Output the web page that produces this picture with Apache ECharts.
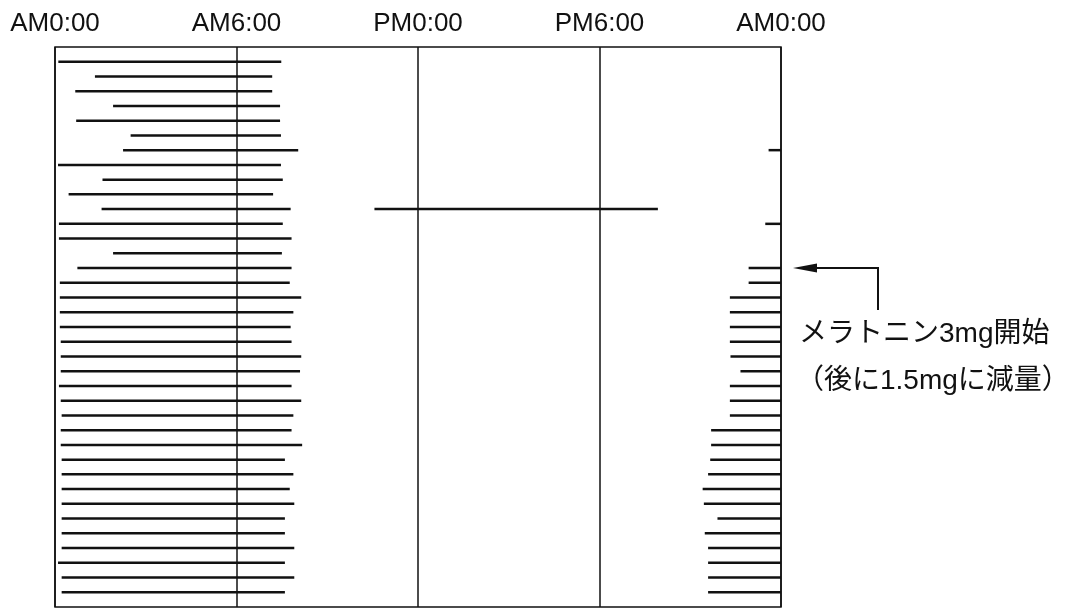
<!DOCTYPE html>
<html>
<head>
<meta charset="utf-8">
<script src="https://cdn.jsdelivr.net/npm/echarts@6/dist/echarts.min.js"></script>
<style>
html,body{margin:0;padding:0;background:#fff;}
#c{width:1078px;height:609px;}
</style>
</head>
<body>
<div id="c"></div>
<script>
// Tick labels of the time axis (hours 0, 6, 12, 18, 24)
const hourLabels = ['AM0:00', 'AM6:00', 'PM0:00', 'PM6:00', 'AM0:00'];

// Day rows (top to bottom)
const days = [1,2,3,4,5,6,7,8,9,10,11,12,13,14,15,16,17,18,19,20,21,22,23,24,25,26,27,28,29,30,31,32,33,34,35,36,37];

// Night sleep after midnight: start hour and wake hour
const morningStart = [0.11,1.32,0.67,1.92,0.70,2.50,2.25,0.10,1.57,0.45,1.54,0.13,0.13,1.92,0.74,0.16,0.16,0.16,0.16,0.19,0.19,0.19,0.13,0.19,0.22,0.19,0.19,0.22,0.22,0.22,0.22,0.22,0.22,0.22,0.10,0.22,0.22];
const morningEnd   = [7.48,7.18,7.18,7.44,7.44,7.47,8.04,7.47,7.53,7.21,7.79,7.53,7.82,7.50,7.82,7.76,8.14,7.88,7.79,7.82,8.14,8.10,7.82,8.14,7.88,7.82,8.17,7.60,7.88,7.76,7.91,7.60,7.60,7.91,7.60,7.91,7.60];

// Bedtime before midnight (sleep runs to 24:00), null = none
const eveningStart = [null,null,null,null,null,null,23.59,null,null,null,null,23.48,null,null,22.93,22.93,22.31,22.31,22.31,22.31,22.33,22.66,22.31,22.31,22.31,21.69,21.69,21.66,21.59,21.41,21.45,21.90,21.48,21.59,21.59,21.59,21.59];

// Daytime sleep episode
const daytimeDay = [11];
const daytimeStart = [10.56];
const daytimeEnd = [19.93];

// Annotation
const noteDay = 15;
const noteLines = ['メラトニン3mg開始', '（後に1.5mgに減量）'];

const segs = [];
days.forEach((d, i) => {
  segs.push([morningStart[i], morningEnd[i], d]);
  if (eveningStart[i] != null) segs.push([eveningStart[i], 24, d]);
});
daytimeDay.forEach((d, i) => segs.push([daytimeStart[i], daytimeEnd[i], d]));

const chart = echarts.init(document.getElementById('c'), null, {renderer: 'canvas'});
const option = {
  animation: false,
  backgroundColor: '#fff',
  grid: {left: 55, right: 297, top: 47, bottom: 2, show: true, borderColor: '#111', borderWidth: 1.5, backgroundColor: 'transparent'},
  xAxis: {
    type: 'value', position: 'top', min: 0, max: 24, interval: 6,
    axisLine: {show: false}, axisTick: {show: false},
    splitLine: {show: true, lineStyle: {color: '#111', width: 1.5}},
    axisLabel: {
      margin: 10, color: '#111', fontSize: 26, fontFamily: 'Liberation Sans, Arial, sans-serif',
      formatter: v => hourLabels[Math.round(v / 6)]
    }
  },
  yAxis: {type: 'value', inverse: true, min: 0, max: 38, show: false},
  series: [{
    type: 'custom',
    data: segs,
    encode: {x: [0, 1], y: 2},
    renderItem: function (params, api) {
      const p1 = api.coord([api.value(0), api.value(2)]);
      const p2 = api.coord([api.value(1), api.value(2)]);
      return {type: 'line', shape: {x1: p1[0], y1: p1[1], x2: p2[0], y2: p2[1]}, style: {stroke: '#111', lineWidth: 2.5}};
    }
  }]
};
chart.setOption(option);

const anchor = chart.convertToPixel({gridIndex: 0}, [24, noteDay]);
const ax = anchor[0], ay = anchor[1];
const font = '28px "Liberation Sans", "Noto Sans CJK JP", sans-serif';
chart.setOption({
  graphic: [
    {type: 'polyline', shape: {points: [[ax + 30, ay], [ax + 97, ay], [ax + 97, ay + 42]]}, style: {stroke: '#111', lineWidth: 2, fill: null}},
    {type: 'polygon', shape: {points: [[ax + 12, ay], [ax + 36, ay - 4.5], [ax + 36, ay + 4.5]]}, style: {fill: '#111'}},
    {type: 'text', left: ax + 18, top: ay + 52, style: {text: noteLines[0], font: font, fill: '#111'}},
    {type: 'text', left: ax + 15, top: ay + 99, style: {text: noteLines[1], font: font, fill: '#111'}}
  ]
});
</script>
</body>
</html>
